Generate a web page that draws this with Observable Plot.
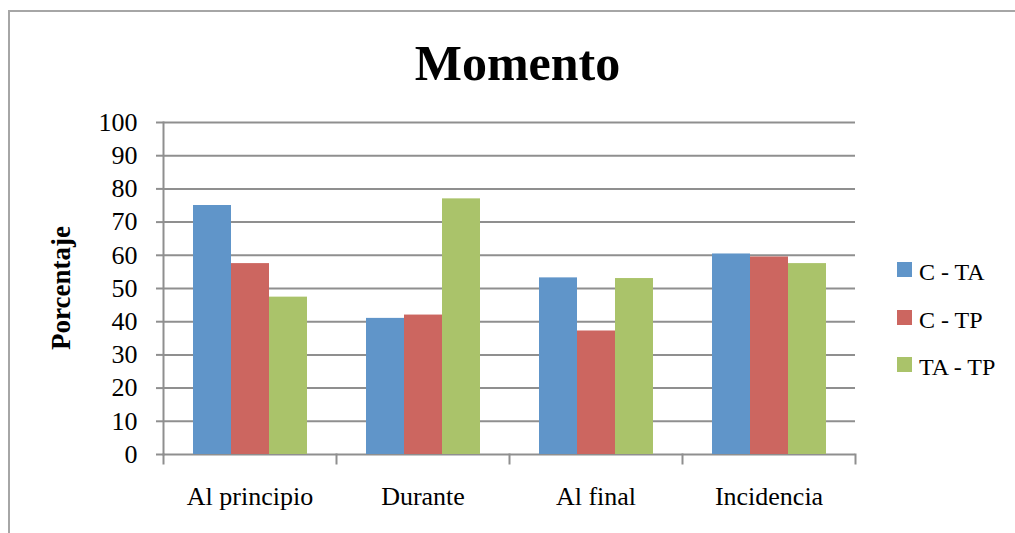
<!DOCTYPE html>
<html><head><meta charset="utf-8">
<script src="https://cdn.jsdelivr.net/npm/d3@7"></script>
<script src="https://cdn.jsdelivr.net/npm/@observablehq/plot@0.6"></script>
<style>
html,body{margin:0;padding:0;overflow:hidden;background:#fff;}
#wrap{position:relative;width:1015px;height:533px;overflow:hidden;font-family:"Liberation Serif",serif;color:#000;}
#btop{position:absolute;left:8px;top:10px;width:1100px;height:2px;background:#a6a6a6;}
#bleft{position:absolute;left:8px;top:10px;width:2px;height:600px;background:#a6a6a6;}
#title{position:absolute;left:0;width:1035px;text-align:center;top:38px;font-size:50px;line-height:50px;font-weight:bold;font-family:"Liberation Serif",serif;}
#ylabel{position:absolute;left:61px;top:288px;transform:translate(-50%,-50%) rotate(-90deg);font-size:27px;line-height:27px;font-weight:bold;white-space:nowrap;font-family:"Liberation Serif",serif;}
#chart{position:absolute;left:0;top:0;}
.leg{position:absolute;left:897px;font-size:24px;line-height:24px;white-space:nowrap;font-family:"Liberation Serif",serif;}
.leg span.sw{position:absolute;left:0;top:2px;width:15px;height:15px;}
.leg span.tx{position:absolute;left:22px;top:0;font-family:"Liberation Serif",serif;}
</style>
</head><body>
<div id="wrap">
  <div id="btop"></div>
  <div id="bleft"></div>
  <div id="chart"></div>
  <div id="title">Momento</div>
  <div id="ylabel">Porcentaje</div>
  <div id="legend"></div>
</div>
<script>
const categories = ["Al principio", "Durante", "Al final", "Incidencia"];
const series = ["C - TA", "C - TP", "TA - TP"];
const valuesCTA = [75, 41, 53.2, 60.4];
const valuesCTP = [57.5, 42, 37.2, 59.5];
const valuesTATP = [47.4, 77, 53, 57.5];
const yTicks = [0, 10, 20, 30, 40, 50, 60, 70, 80, 90, 100];
const colors = ["#6095C9", "#CC6660", "#AAC36A"];

const seriesValues = [valuesCTA, valuesCTP, valuesTATP];
const rows = categories.flatMap((c, i) =>
  series.map((s, j) => ({category: c, series: s, value: seriesValues[j][i]})));

const axisColor = "#8f8f8f";
const chart = Plot.plot({
  width: 1015,
  height: 533,
  marginLeft: 162,
  marginRight: 159,
  marginTop: 122,
  marginBottom: 79,
  style: {fontFamily: "Liberation Serif", fontSize: "26px", color: "#000", background: "transparent"},
  fx: {domain: categories, padding: 0, label: null, axis: null},
  x: {domain: series, paddingInner: 0, paddingOuter: 0.75, axis: null},
  y: {domain: [0, 100], axis: null},
  color: {domain: series, range: colors},
  marks: [
    Plot.gridY(yTicks, {stroke: axisColor, strokeOpacity: 1, strokeWidth: 2}),
    Plot.barY(rows, {fx: "category", x: "series", y: "value", fill: "series", inset: 0}),
    Plot.frame({anchor: "left", facet: "super", stroke: axisColor, strokeWidth: 2}),
    Plot.frame({anchor: "left", insetTop: 332, insetBottom: -9, stroke: axisColor, strokeWidth: 2}),
    Plot.frame({anchor: "right", facet: "super", insetTop: 332, insetBottom: -9, stroke: axisColor, strokeWidth: 2}),
    Plot.axisY(yTicks, {tickSize: 7, tickPadding: 19, stroke: axisColor, strokeWidth: 2, label: null, fontSize: 26, fill: "#000"}),
    Plot.axisFx({anchor: "bottom", tickSize: 0, tickPadding: 32, label: null, fontSize: 26, fill: "#000"})
  ]
});
document.getElementById("chart").appendChild(chart);

const legend = document.getElementById("legend");
series.forEach((s, i) => {
  const d = document.createElement("div");
  d.className = "leg";
  d.style.top = (260 + i * 47.5) + "px";
  d.innerHTML = `<span class="sw" style="background:${colors[i]}"></span><span class="tx">${s}</span>`;
  legend.appendChild(d);
});
</script>
</body></html>
